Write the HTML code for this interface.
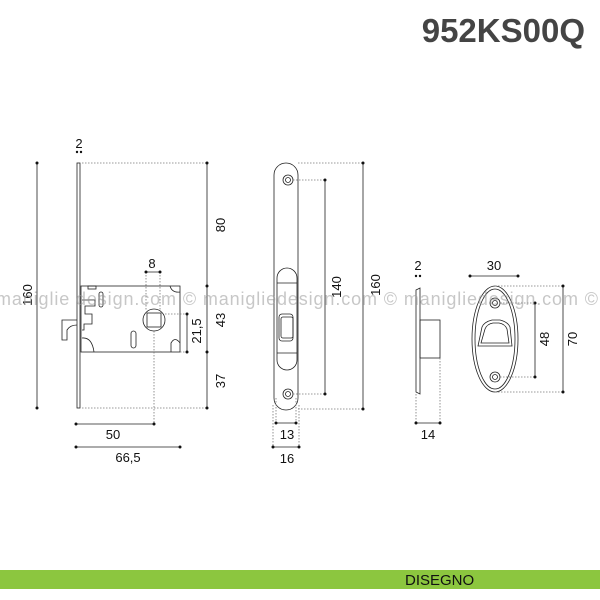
<!DOCTYPE html>
<html><head><meta charset="utf-8"><style>
html,body{margin:0;padding:0;background:#fff}
svg{display:block}
text{font-family:"Liberation Sans",sans-serif}
</style></head><body>
<svg width="600" height="600" viewBox="0 0 600 600" xmlns="http://www.w3.org/2000/svg">
<text x="585" y="42" text-anchor="end" font-size="33" font-weight="bold" fill="#444">952KS00Q</text>
<rect x="0" y="570" width="600" height="19" fill="#8cc63f"/>
<text x="405" y="585" font-size="15" fill="#111">DISEGNO</text>

<g stroke="#222" fill="none" stroke-width="0.8">
<rect x="77" y="163" width="3" height="245" fill="#fff"/>
<rect x="81" y="286" width="99" height="66"/>
<path d="M77 320 H62 V340 H67 V330 Q70 325 77 325"/>
<circle cx="154" cy="320" r="11"/>
<rect x="147" y="313" width="14" height="14"/>
<rect x="99" y="292" width="4" height="15" rx="2"/>
<rect x="131" y="331" width="5" height="17" rx="2.5"/>
<path d="M82 300 H95 V306 H85 V314 H92 V324 H84 V330 H82"/>
<path d="M170 286 Q172 293 180 292"/>
<path d="M171 352 V343 Q175 336 180 343"/>
<path d="M82 338 Q92 337 94 352"/>
<rect x="88" y="286" width="8" height="3"/>
<rect x="274" y="163" width="24" height="247" rx="12"/>
<rect x="277" y="268" width="20" height="102" rx="10"/>
<path d="M277 283 H297 M277 353 H297"/>
<rect x="279" y="314" width="14" height="27" rx="3"/>
<rect x="281" y="317" width="12" height="21" rx="2"/>
<circle cx="288" cy="180" r="5"/><circle cx="288" cy="180" r="2.5"/>
<circle cx="288" cy="394" r="5"/><circle cx="288" cy="394" r="2.5"/>
<path d="M416 290 L420 288 V394 L416 392 Z"/>
<rect x="420" y="320" width="20" height="38"/>
<ellipse cx="495" cy="339" rx="23" ry="53"/>
<ellipse cx="495" cy="339" rx="20" ry="50"/>
<circle cx="495" cy="303" r="5"/><circle cx="495" cy="303" r="2.5"/>
<circle cx="495" cy="377" r="5"/><circle cx="495" cy="377" r="2.5"/>
<path d="M482 327 Q484 322 492 320 H500 Q508 322 510 327 L512 346 H478 Z"/>
<path d="M485 329 Q487 324 493 323 H499 Q505 324 507 329 L509 343 H481 Z"/>
</g>

<g stroke="#777" stroke-dasharray="1.5,1.5" stroke-width="0.8" fill="none">
<path d="M82 163 H207 M82 408 H207 M146 272 V310 M160 272 V310 M154 331 V424 M165 314 H187 M180 352 H187"/>
<path d="M298 163 H363 M293 180 H325 M293 394 H325 M298 409 H363 M276 398 V423 M296 398 V423 M273 405 V447 M299 405 V447"/>
<path d="M416 394 V423 M440 358 V423"/>
<path d="M495 286 H563 M500 303 H535 M500 377 H535 M495 392 H563"/>
</g>

<g stroke="#222" stroke-width="0.8">
<path d="M37 163 V408 M207 163 V408 M146 272 H160 M187 314 V352 M76 424 H154 M76 447 H180"/>
<path d="M325 180 V394 M363 163 V409 M276 423 H296 M273 447 H299 M416 423 H440 M470 276 H518 M535 303 V377 M563 286 V392"/>
</g>
<g fill="#111">
<circle cx="37" cy="163" r="1.5"/><circle cx="37" cy="408" r="1.5"/>
<circle cx="207" cy="163" r="1.5"/><circle cx="207" cy="286" r="1.5"/><circle cx="207" cy="352" r="1.5"/><circle cx="207" cy="408" r="1.5"/>
<circle cx="77" cy="152" r="1.2"/><circle cx="81" cy="152" r="1.2"/>
<circle cx="146" cy="272" r="1.5"/><circle cx="160" cy="272" r="1.5"/>
<circle cx="187" cy="314" r="1.5"/><circle cx="187" cy="352" r="1.5"/>
<circle cx="76" cy="424" r="1.5"/><circle cx="154" cy="424" r="1.5"/>
<circle cx="76" cy="447" r="1.5"/><circle cx="180" cy="447" r="1.5"/>
<circle cx="325" cy="180" r="1.5"/><circle cx="325" cy="394" r="1.5"/>
<circle cx="363" cy="163" r="1.5"/><circle cx="363" cy="409" r="1.5"/>
<circle cx="276" cy="423" r="1.5"/><circle cx="296" cy="423" r="1.5"/>
<circle cx="273" cy="447" r="1.5"/><circle cx="299" cy="447" r="1.5"/>
<circle cx="416" cy="276" r="1.2"/><circle cx="420" cy="276" r="1.2"/>
<circle cx="416" cy="423" r="1.5"/><circle cx="440" cy="423" r="1.5"/>
<circle cx="470" cy="276" r="1.5"/><circle cx="518" cy="276" r="1.5"/>
<circle cx="535" cy="303" r="1.5"/><circle cx="535" cy="377" r="1.5"/>
<circle cx="563" cy="286" r="1.5"/><circle cx="563" cy="392" r="1.5"/>
</g>

<g font-size="13" fill="#111" text-anchor="middle">
<text x="79" y="148">2</text>
<text x="152" y="268">8</text>
<text x="113" y="439">50</text>
<text x="128" y="462">66,5</text>
<text x="287" y="439">13</text>
<text x="287" y="463">16</text>
<text x="418" y="270">2</text>
<text x="428" y="439">14</text>
<text x="494" y="270">30</text>
<text transform="translate(32,295) rotate(-90)">160</text>
<text transform="translate(225,225) rotate(-90)">80</text>
<text transform="translate(225,320) rotate(-90)">43</text>
<text transform="translate(225,381) rotate(-90)">37</text>
<text transform="translate(201,331) rotate(-90)">21,5</text>
<text transform="translate(341,287) rotate(-90)">140</text>
<text transform="translate(380,285) rotate(-90)">160</text>
<text transform="translate(549,339) rotate(-90)">48</text>
<text transform="translate(577,339) rotate(-90)">70</text>
</g>
<text x="-4" y="305" font-size="18" fill="#999" fill-opacity="0.55" textLength="602" lengthAdjust="spacing">maniglie design.com © manigliedesign.com © manigliedesign.com ©</text>
</svg>
</body></html>
